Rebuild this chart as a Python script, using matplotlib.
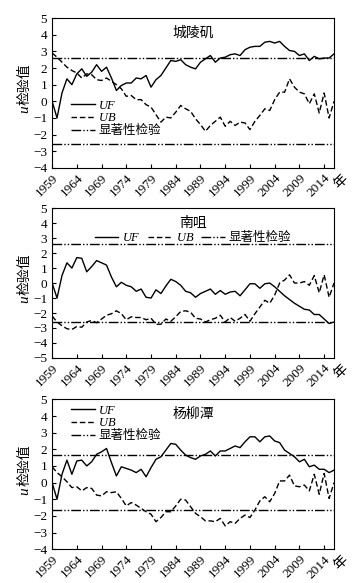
import numpy as np
import matplotlib.pyplot as plt

plt.rcParams['font.family'] = ['Liberation Serif', 'Noto Sans CJK SC']
plt.rcParams['axes.unicode_minus'] = True
plt.rcParams['mathtext.fontset'] = 'custom'
plt.rcParams['mathtext.it'] = 'Liberation Serif:italic'

years = list(range(1959, 2017))
year_ticks = list(range(1959, 2017, 5))

# 城陵矶
uf_clj = [0, -1.0, 0.5, 1.35, 1.0, 1.65, 1.95, 1.5, 1.75, 2.2, 1.8, 2.05, 1.4, 0.65, 0.95,
          1.1, 1.1, 1.4, 1.35, 1.55, 0.85, 1.3, 1.55, 2.0, 2.45, 2.4, 2.5, 2.2, 2.05, 1.95,
          2.35, 2.55, 2.75, 2.35, 2.6, 2.65, 2.8, 2.85, 2.75, 3.1, 3.25, 3.3, 3.3, 3.55, 3.6,
          3.5, 3.6, 3.3, 3.05, 3.0, 2.75, 2.85, 2.45, 2.7, 2.55, 2.6, 2.6, 2.85]
ub_clj = [2.9, 2.65, 2.35, 2.05, 1.85, 1.7, 1.4, 1.65, 1.6, 1.3, 1.25, 1.4, 1.2, 1.0, 0.75,
          0.3, 0.35, 0.1, 0.1, -0.2, -0.35, -0.8, -1.25, -0.95, -1.0, -0.65, -0.25, -0.45,
          -0.6, -1.05, -1.4, -1.8, -1.45, -1.2, -0.95, -1.5, -1.2, -1.45, -1.25, -1.3, -1.7,
          -1.2, -0.85, -0.45, -0.55, 0.1, 0.55, 0.55, 1.35, 0.85, 0.55, 0.45, -0.15, 0.45,
          -0.7, 0.5, -1.0, 0.0]

# 南咀
uf_nz = [0, -1.0, 0.5, 1.35, 1.0, 1.7, 1.65, 0.75, 1.1, 1.5, 1.35, 1.2, 0.4, -0.25, 0.05,
         -0.15, -0.25, -0.55, -0.4, -0.95, -1.0, -0.45, -0.7, -0.2, 0.25, 0.1, -0.15, -0.55,
         -0.65, -0.95, -0.7, -0.55, -0.4, -0.75, -0.5, -0.75, -0.6, -0.55, -0.85, -0.45,
         -0.05, -0.05, -0.35, -0.05, 0.0, -0.25, -0.55, -0.85, -1.1, -1.35, -1.55, -1.75,
         -1.8, -2.1, -2.1, -2.4, -2.7, -2.6]
ub_nz = [-2.2, -2.6, -2.85, -3.05, -3.1, -2.9, -2.95, -2.6, -2.5, -2.65, -2.4, -2.15, -2.05,
         -1.85, -2.05, -2.45, -2.25, -2.3, -2.3, -2.45, -2.35, -2.75, -2.75, -2.4, -2.55,
         -2.25, -1.9, -1.85, -1.95, -2.35, -2.4, -2.6, -2.45, -2.35, -2.15, -2.6, -2.3,
         -2.55, -2.35, -2.1, -2.55, -2.05, -1.6, -1.15, -1.35, -0.8, 0.0, 0.2, 0.55, 0.0,
         0.0, 0.1, -0.15, 0.5, -0.65, 0.55, -0.95, 0.0]

# 杨柳潭
uf_ylt = [0, -1.0, 0.5, 1.35, 0.5, 1.3, 1.35, 1.0, 1.25, 1.7, 1.85, 2.05, 1.2, 0.4, 0.95,
          0.85, 0.75, 0.6, 0.8, 0.35, 0.9, 1.4, 1.55, 1.95, 2.35, 2.3, 1.95, 1.65, 1.5, 1.4,
          1.6, 1.7, 1.9, 1.6, 1.9, 1.9, 2.05, 2.2, 2.1, 2.45, 2.75, 2.75, 2.45, 2.75, 2.8,
          2.5, 2.4, 1.95, 1.75, 1.55, 1.25, 1.4, 0.95, 1.05, 0.8, 0.8, 0.6, 0.75]
ub_ylt = [0.95, 0.6, 0.35, 0.05, -0.3, -0.25, -0.5, -0.3, -0.35, -0.75, -0.8, -0.55, -0.6,
          -0.55, -0.95, -1.4, -1.2, -1.35, -1.55, -1.75, -1.9, -2.35, -2.1, -1.75, -1.75,
          -1.4, -1.0, -1.05, -1.45, -1.85, -2.05, -2.3, -2.3, -2.35, -2.15, -2.6, -2.35,
          -2.45, -2.15, -1.95, -2.1, -1.65, -1.1, -0.85, -1.15, -0.65, 0.1, 0.1, 0.45, -0.2,
          -0.25, -0.15, -0.5, 0.5, -0.7, 0.55, -0.95, 0.0]

stations = ['城陵矶', '南咀', '杨柳潭']
sig_levels = [2.58, 2.58, 1.64]
ylims = [(-4, 5), (-5, 5), (-4, 5)]

fig = plt.figure(figsize=(3.52, 5.83), dpi=100)
bottoms = [0.712, 0.386, 0.058]
sig_style = (0, (7, 1.5, 1, 1.5, 1, 1.5))
leg_kw = dict(frameon=False, fontsize=9, handlelength=1.9, handletextpad=0.3,
              borderpad=0.1)

panels = [(uf_clj, ub_clj), (uf_nz, ub_nz), (uf_ylt, ub_ylt)]
for i, (uf, ub) in enumerate(panels):
    ax = fig.add_axes([0.148, bottoms[i], 0.801, 0.257])
    ax.plot(years, uf, color='black', lw=1.0, ls='-', label='$UF$')
    ax.plot(years, ub, color='black', lw=1.0, ls=(0, (4, 2)), label='$UB$')
    s = sig_levels[i]
    ax.axhline(s, color='black', lw=1.0, ls=sig_style, label='显著性检验')
    ax.axhline(-s, color='black', lw=1.0, ls=sig_style)
    ax.set_xlim(1959, 2016)
    ax.set_ylim(*ylims[i])
    ax.set_yticks(range(ylims[i][0], ylims[i][1] + 1))
    ax.set_xticks(year_ticks)
    ax.set_xticklabels([str(y) for y in year_ticks], rotation=45, ha='right',
                       rotation_mode='anchor')
    ax.tick_params(direction='in', labelsize=9.5, length=3, pad=3.5)
    ax.tick_params(axis='x', pad=3)
    # y label "u检验值": italic u below the CJK part
    ax.text(-0.098, 0.42, '检验值', transform=ax.transAxes, rotation=90,
            ha='center', va='bottom', fontsize=10, family=['Noto Sans CJK SC'])
    ax.text(-0.096, 0.415, 'u', transform=ax.transAxes, rotation=90,
            ha='center', va='top', fontsize=11, style='italic',
            family=['Liberation Serif'])
    ax.text(0.5, 0.9, stations[i], transform=ax.transAxes, ha='center', va='center',
            fontsize=10, family=['Noto Sans CJK SC'])
    ax.text(1.025, -0.09, '年', transform=ax.transAxes, ha='center', va='center',
            rotation=45, fontsize=10, family=['Noto Sans CJK SC'])
    if i == 1:
        ax.legend(loc='upper center', bbox_to_anchor=(0.5, 0.89), ncol=3,
                  columnspacing=0.6, **leg_kw)
    elif i == 0:
        ax.legend(loc='center left', bbox_to_anchor=(0.04, 0.33), labelspacing=0.05,
                  **leg_kw)
    else:
        ax.legend(loc='upper left', bbox_to_anchor=(0.04, 1.015), labelspacing=0.05,
                  **leg_kw)

fig.savefig('out.png', dpi=100)
